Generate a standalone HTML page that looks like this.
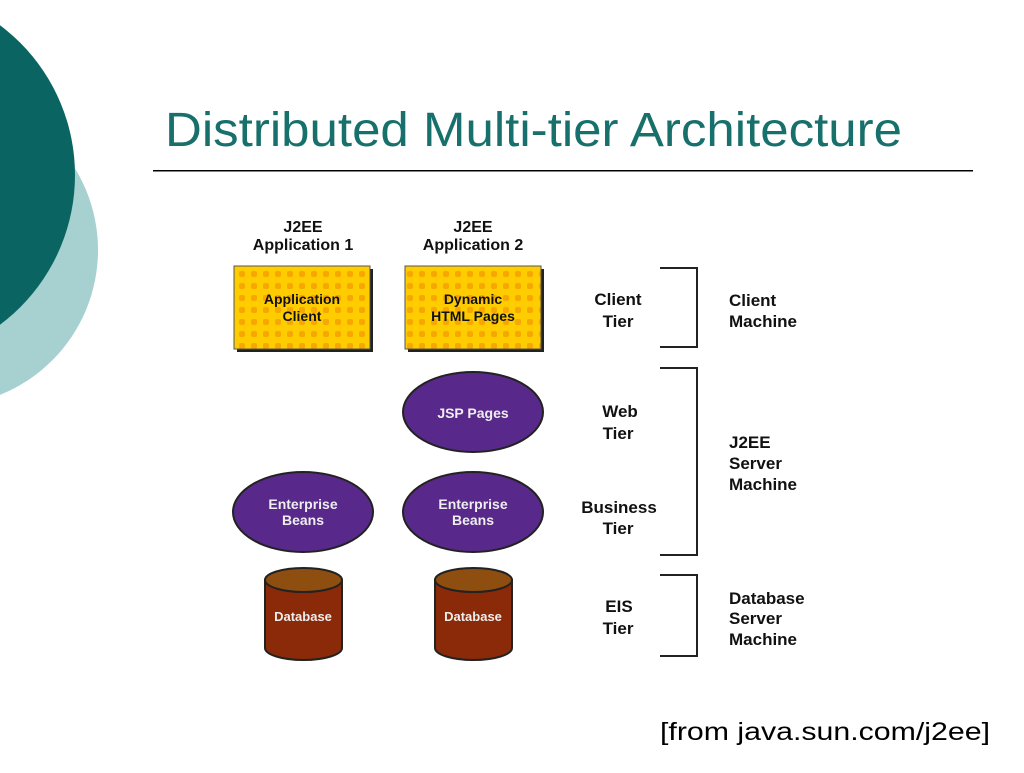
<!DOCTYPE html>
<html><head><meta charset="utf-8"><style>
body{margin:0;width:1024px;height:768px;background:#fff;overflow:hidden}
</style></head><body>
<svg width="1024" height="768" xmlns="http://www.w3.org/2000/svg" font-family="Liberation Sans, sans-serif">
<defs>
<pattern id="dots" width="12" height="12" patternUnits="userSpaceOnUse" x="236" y="268">
<rect width="12" height="12" fill="#ffcc00"/>
<rect x="3" y="3" width="6" height="6" rx="2" fill="#f7a800"/>
</pattern>
</defs>
<circle cx="-58" cy="250" r="156" fill="#a7d0d0"/>
<circle cx="-112" cy="175" r="187" fill="#0a6562"/>
<text x="165" y="146" font-size="48" fill="#17706b" textLength="737" lengthAdjust="spacingAndGlyphs">Distributed Multi-tier Architecture</text>
<rect x="153" y="170" width="820" height="1.5" fill="#000"/>
<g font-weight="bold" font-size="16" fill="#111" text-anchor="middle">
<text x="303" y="232">J2EE</text><text x="303" y="250">Application 1</text>
<text x="473" y="232">J2EE</text><text x="473" y="250">Application 2</text>
</g>
<rect x="237" y="269" width="136" height="83" fill="#222"/>
<rect x="234" y="266" width="136" height="83" fill="url(#dots)" stroke="#555" stroke-width="1"/>
<rect x="408" y="269" width="136" height="83" fill="#222"/>
<rect x="405" y="266" width="136" height="83" fill="url(#dots)" stroke="#555" stroke-width="1"/>
<g font-weight="bold" font-size="14" fill="#111" text-anchor="middle">
<text x="302" y="304">Application</text><text x="302" y="321">Client</text>
<text x="473" y="304">Dynamic</text><text x="473" y="321">HTML Pages</text>
</g>
<g fill="#58298a" stroke="#222" stroke-width="2">
<ellipse cx="473" cy="412" rx="70" ry="40"/>
<ellipse cx="303" cy="512" rx="70" ry="40"/>
<ellipse cx="473" cy="512" rx="70" ry="40"/>
</g>
<g font-weight="bold" font-size="14" fill="#eee" text-anchor="middle">
<text x="473" y="418">JSP Pages</text>
<text x="303" y="509">Enterprise</text><text x="303" y="525">Beans</text>
<text x="473" y="509">Enterprise</text><text x="473" y="525">Beans</text>
</g>
<g stroke="#222" stroke-width="2">
<path d="M265 580 V648 A38.5 12 0 0 0 342 648 V580 Z" fill="#8a2a08"/>
<ellipse cx="303.5" cy="580" rx="38.5" ry="12" fill="#8e4e10"/>
<path d="M435 580 V648 A38.5 12 0 0 0 512 648 V580 Z" fill="#8a2a08"/>
<ellipse cx="473.5" cy="580" rx="38.5" ry="12" fill="#8e4e10"/>
</g>
<g font-weight="bold" font-size="13" fill="#eee" text-anchor="middle">
<text x="303" y="621">Database</text><text x="473" y="621">Database</text>
</g>
<g fill="none" stroke="#222" stroke-width="2">
<path d="M660 268 H697 V347 H660"/>
<path d="M660 368 H697 V555 H660"/>
<path d="M660 575 H697 V656 H660"/>
</g>
<g font-weight="bold" font-size="17" fill="#111">
<g text-anchor="middle">
<text x="618" y="305">Client</text><text x="618" y="327">Tier</text>
<text x="620" y="417">Web</text><text x="618" y="439">Tier</text>
<text x="619" y="513">Business</text><text x="618" y="534">Tier</text>
<text x="619" y="612">EIS</text><text x="618" y="634">Tier</text>
</g>
<text x="729" y="306">Client</text><text x="729" y="327">Machine</text>
<text x="729" y="448">J2EE</text><text x="729" y="469">Server</text><text x="729" y="490">Machine</text>
<text x="729" y="604">Database</text><text x="729" y="624">Server</text><text x="729" y="645">Machine</text>
</g>
<text x="660" y="740" font-size="25" fill="#000" textLength="330" lengthAdjust="spacingAndGlyphs">[from java.sun.com/j2ee]</text>
</svg>
</body></html>
